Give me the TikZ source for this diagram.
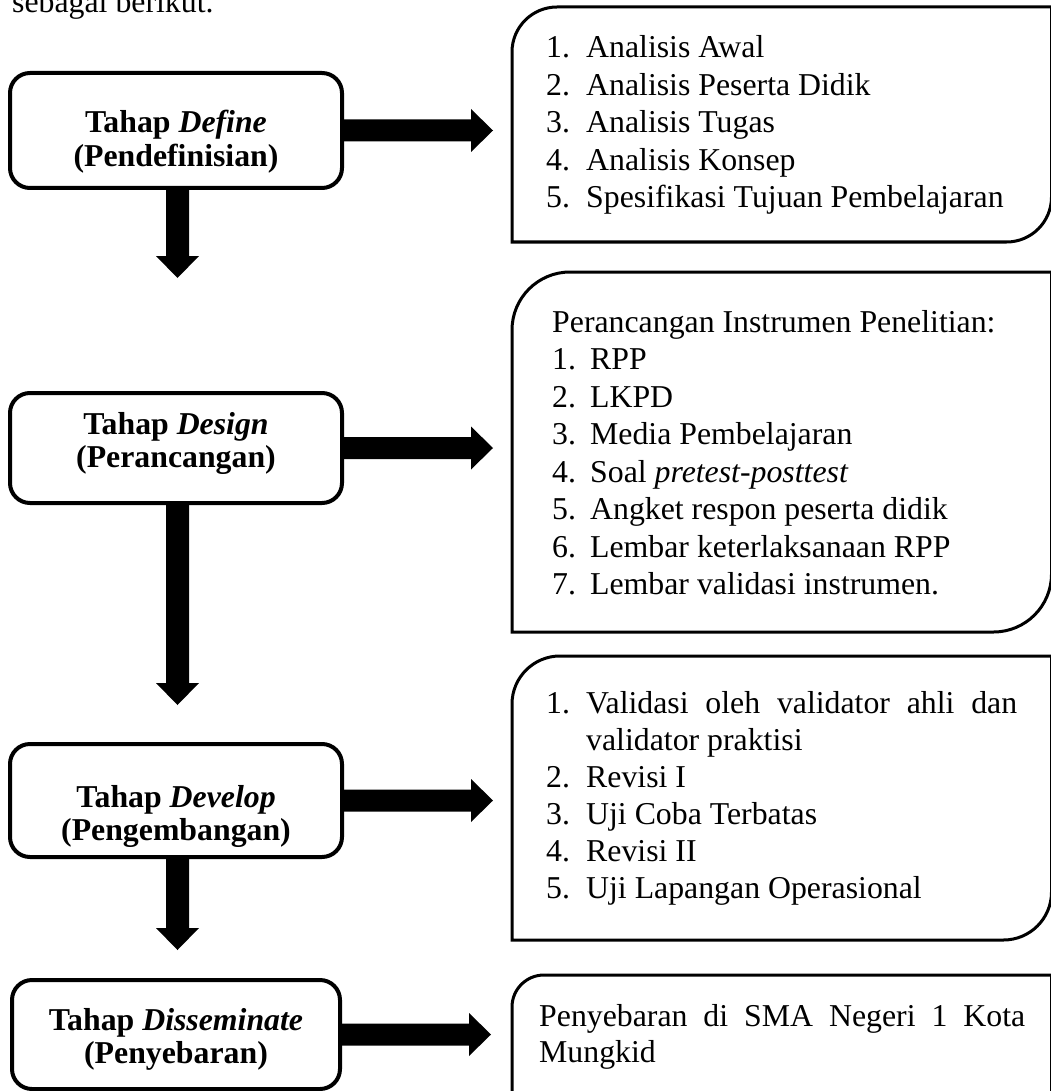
\documentclass[tikz,border=0pt]{standalone}
\usepackage{fontspec}
\setmainfont{Liberation Serif}
\usetikzlibrary{calc}
\newcommand\rarr[2]{\fill (#1) ++(0,-11) -- ++(#2,0) -- ++(0,-10.5) -- ++(22,21.5) -- ++(-22,21.5) -- ++(0,-10.5) -- ++(-#2,0) -- cycle;}
\newcommand\darr[2]{\fill (#1) ++(-11.5,0) -- ++(0,#2) -- ++(-10,0) -- ++(21.5,22) -- ++(21.5,-22) -- ++(-10,0) -- ++(0,-#2) -- cycle;}
\newcommand\rcbox[2]{\draw[rline] (#1.west) [rounded corners=#2] -- (#1.north west) -- (#1.north) [sharp corners] -- (#1.north east) -- (#1.east) [rounded corners=#2] -- (#1.south east) -- (#1.south) [sharp corners] -- (#1.south west) -- cycle;}
\begin{document}
\begin{tikzpicture}[x=1pt,y=-1pt,
  lbox/.style={draw, line width=4pt, rounded corners=20pt, minimum width=332pt, minimum height=115pt, inner sep=0pt, outer sep=0pt},
  ltxt/.style={anchor=base, inner sep=0pt, font=\bfseries\fontsize{31.8pt}{34pt}\selectfont},
  rframe/.style={draw=none, inner sep=0pt, outer sep=0pt},
  rline/.style={line width=3pt},
  rt/.style={anchor=base west, inner sep=0pt, font=\fontsize{31.8pt}{37.5pt}\selectfont}]
\useasboundingbox (0,0) rectangle (1050,1091);
\fill[white] (0,0) rectangle (1050,1091);

\node[rt] (intro) at (12,13) {sebagai berikut.};

% left boxes
\node[lbox] (def) at (176,130.5) {};
\node[lbox, minimum height=110pt] (des) at (176,448) {};
\node[lbox, minimum height=113pt] (dev) at (176,800.5) {};
\node[lbox, minimum height=109pt, minimum width=328pt] (dis) at (176,1034.5) {};

\node[ltxt] (def1) at (176,133) {Tahap \textit{Define}};
\node[ltxt] (def2) at (176,166.5) {(Pendefinisian)};
\node[ltxt] (des1) at (176,434) {Tahap \textit{Design}};
\node[ltxt] (des2) at (176,467.5) {(Perancangan)};
\node[ltxt] (dev1) at (176,807) {Tahap \textit{Develop}};
\node[ltxt] (dev2) at (176,840.5) {(Pengembangan)};
\node[ltxt] (dis1) at (176,1030) {Tahap \textit{Disseminate}};
\node[ltxt] (dis2) at (176,1063.5) {(Penyebaran)};

% right boxes
\node[rframe, minimum width=539.5pt, minimum height=235pt] (ra) at (781.75,124.5) {};
\node[rframe, minimum width=539.5pt, minimum height=360pt] (rb) at (781.75,452) {};
\node[rframe, minimum width=539.5pt, minimum height=284pt] (rc) at (781.75,798) {};
\node[rframe, minimum width=539.5pt, minimum height=150pt] (rd) at (781.75,1050) {};
\rcbox{ra}{45pt}
\rcbox{rb}{58pt}
\rcbox{rc}{48pt}
\rcbox{rd}{32pt}

\node[rt] (a1) at (546,58) {\makebox[40pt][l]{1.}Analisis Awal};
\node[rt] (a2) at (546,95.5) {\makebox[40pt][l]{2.}Analisis Peserta Didik};
\node[rt] (a3) at (546,133) {\makebox[40pt][l]{3.}Analisis Tugas};
\node[rt] (a4) at (546,170.5) {\makebox[40pt][l]{4.}Analisis Konsep};
\node[rt] (a5) at (546,208) {\makebox[40pt][l]{5.}Spesifikasi Tujuan Pembelajaran};

\node[rt] (b0) at (552,332) {Perancangan Instrumen Penelitian:};
\node[rt] (b1) at (552,369.5) {\makebox[38pt][l]{1.}RPP};
\node[rt] (b2) at (552,407) {\makebox[38pt][l]{2.}LKPD};
\node[rt] (b3) at (552,444.5) {\makebox[38pt][l]{3.}Media Pembelajaran};
\node[rt] (b4) at (552,482) {\makebox[38pt][l]{4.}Soal \textit{pretest-posttest}};
\node[rt] (b5) at (552,519.5) {\makebox[38pt][l]{5.}Angket respon peserta didik};
\node[rt] (b6) at (552,557) {\makebox[38pt][l]{6.}Lembar keterlaksanaan RPP};
\node[rt] (b7) at (552,594.5) {\makebox[38pt][l]{7.}Lembar validasi instrumen.};

\node[rt] (c1) at (546,713) {\makebox[40pt][l]{1.}\makebox[431pt][s]{Validasi oleh validator ahli dan}};
\node[rt] (c1b) at (586,750) {validator praktisi};
\node[rt] (c2) at (546,787) {\makebox[40pt][l]{2.}Revisi I};
\node[rt] (c3) at (546,824) {\makebox[40pt][l]{3.}Uji Coba Terbatas};
\node[rt] (c4) at (546,861) {\makebox[40pt][l]{4.}Revisi II};
\node[rt] (c5) at (546,898) {\makebox[40pt][l]{5.}Uji Lapangan Operasional};

\node[rt] (d1) at (539,1026) {\makebox[486pt][s]{Penyebaran di SMA Negeri 1 Kota}};
\node[rt] (d2) at (539,1062) {Mungkid};

% arrows
\rarr{def.east}{129}
\rarr{des.east}{129}
\rarr{dev.east}{129}
\rarr{dis.east}{129}
\darr{[xshift=1.5pt]def.south}{68}
\darr{[xshift=1.5pt]des.south}{180}
\darr{[xshift=1.5pt]dev.south}{71}
\end{tikzpicture}
\end{document}
